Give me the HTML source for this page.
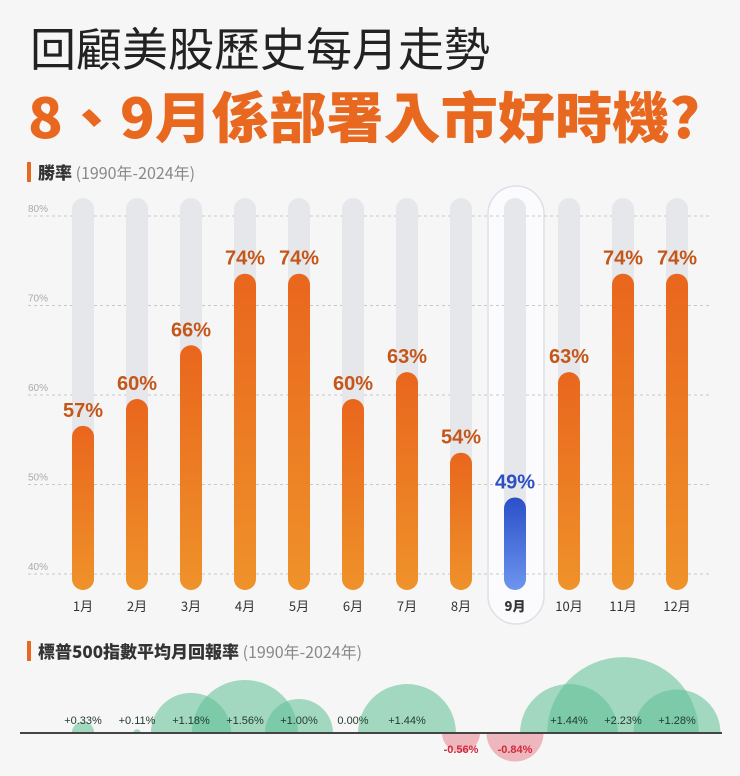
<!DOCTYPE html>
<html><head><meta charset="utf-8">
<style>
body{margin:0;width:740px;height:776px;background:#f6f6f6;overflow:hidden;font-family:"Liberation Sans","Noto Sans CJK TC",sans-serif;}
svg{position:absolute;left:0;top:0}
</style></head>
<body>
<svg width="740" height="776">
<defs>
<linearGradient id="og" x1="0" y1="0" x2="0" y2="1"><stop offset="0" stop-color="#e9661d"/><stop offset="1" stop-color="#ef922a"/></linearGradient>
<linearGradient id="bg" x1="0" y1="0" x2="0" y2="1"><stop offset="0" stop-color="#2a4fc8"/><stop offset="1" stop-color="#6d95ee"/></linearGradient>
<clipPath id="above"><rect x="0" y="0" width="740" height="733"/></clipPath>
<clipPath id="below"><rect x="0" y="733" width="740" height="60"/></clipPath>
</defs>
<text x="30" y="66" font-size="46" fill="#222" font-family="Noto Sans CJK TC,sans-serif">回顧美股歷史每月走勢</text>
<text x="28" y="138" font-size="55" font-weight="900" fill="#e8681f" font-family="Noto Sans CJK TC,sans-serif" textLength="672" lengthAdjust="spacingAndGlyphs">8、9月係部署入市好時機?</text>
<rect x="27" y="162" width="4" height="20" fill="#e8681f"/>
<text x="38" y="179" font-size="17" font-family="Noto Sans CJK TC,sans-serif" fill="#333"><tspan font-weight="900">勝率</tspan><tspan fill="#888" font-size="16"> (1990年-2024年)</tspan></text>
<rect x="488" y="186" width="56" height="438" rx="28" fill="#fbfbfd" stroke="#dde0e6" stroke-width="1.5"/>
<g id="axis"></g>
<g id="bars"></g>
<rect x="27" y="641" width="4" height="20" fill="#e8681f"/>
<text x="38" y="658" font-size="17" font-family="Noto Sans CJK TC,sans-serif" fill="#333"><tspan font-weight="900">標普500指數平均月回報率</tspan><tspan fill="#888" font-size="16"> (1990年-2024年)</tspan></text>
<g id="bubbles"></g>
</svg>
<script>
const months=['1月','2月','3月','4月','5月','6月','7月','8月','9月','10月','11月','12月'];
const winRates=[57,60,66,74,74,60,63,54,49,63,74,74];
const returns=[0.33,0.11,1.18,1.56,1.00,0.00,1.44,-0.56,-0.84,1.44,2.23,1.28];
const yTicks=[40,50,60,70,80];
const NS='http://www.w3.org/2000/svg';
const xOf=i=>83+i*54;
const yOf=v=>574-(v-40)*8.95;
const baseY=733;
const rOf=v=>Math.abs(v)*34;
function mk(t,a,p){const e=document.createElementNS(NS,t);for(const k in a)e.setAttribute(k,a[k]);p.appendChild(e);return e;}
const ax=document.getElementById('axis');
yTicks.forEach(t=>{
 const l=mk('line',{x1:28,x2:710,y1:yOf(t),y2:yOf(t),stroke:'#c8c8c8','stroke-dasharray':'3 3'},ax);
 
 
 const tx=mk('text',{x:28,y:yOf(t)-4,'font-size':10,fill:'#aaa'},ax);
 tx.textContent=t+'%';
 
 
});
const bg=document.getElementById('bars');
months.forEach((m,i)=>{
 const x=xOf(i),v=winRates[i],sep=i===8;
 const tr=mk('rect',{x:x-11,y:198,width:22,height:392,rx:11,fill:'#e6e7ea'},bg);
 
 
 const top=yOf(v)+4;
 const b=mk('rect',{x:x-11,y:top,width:22,height:590-top,rx:11,fill:sep?'url(#bg)':'url(#og)'},bg);
 
 
 const lb=mk('text',{x:x,y:top-9,'text-anchor':'middle','font-size':20,'font-weight':'900',fill:sep?'#2d4fc4':'#c4561a'},bg);
 lb.textContent=v+'%';
 
 
 const ml=mk('text',{x:x,y:611,'text-anchor':'middle','font-size':13,fill:'#333','font-weight':sep?'900':'400','font-family':'Noto Sans CJK TC,sans-serif'},bg);
 ml.textContent=m;
 
 
});
const bb=document.getElementById('bubbles');
returns.forEach((v,i)=>{
 const c=mk('circle',{cx:xOf(i),cy:baseY,r:rOf(v),fill:v>=0?'#5fbf93':'#e8838f','fill-opacity':0.55,'clip-path':v>=0?'url(#above)':'url(#below)'},bb);
 
 
});
const bl=mk('line',{x1:20,x2:722,y1:baseY,y2:baseY,stroke:'#444','stroke-width':2},bb);


returns.forEach((v,i)=>{
 const t=mk('text',{x:xOf(i),y:v<0?baseY+20:baseY-9,'text-anchor':'middle','font-size':11,fill:v<0?'#d2283c':'#1f3a2c','font-weight':v<0?'700':'400'},bb);
 t.textContent=(v>0?'+':'')+v.toFixed(2)+'%';
 
 
});
</script>
</body></html>
